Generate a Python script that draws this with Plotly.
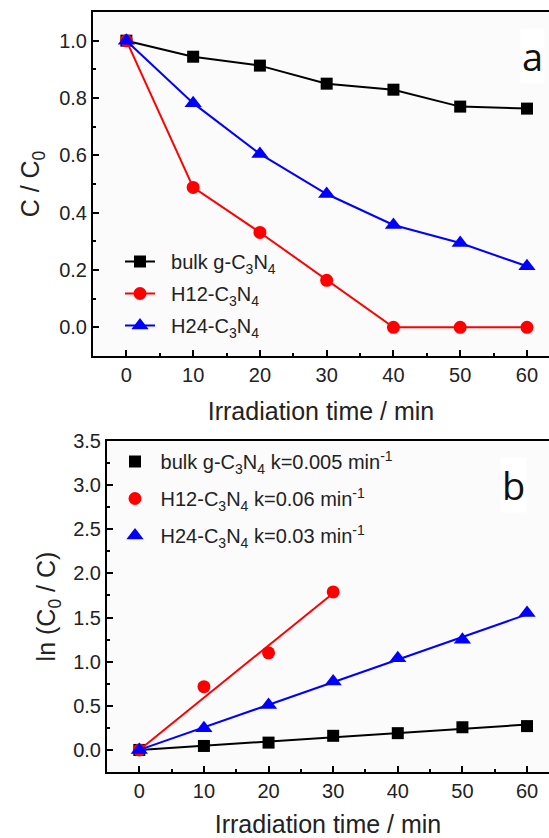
import numpy as np
import plotly.graph_objects as go

# ---------------- data ----------------
time_a = [0, 10, 20, 30, 40, 50, 60]
bulk_a = [1.0, 0.944, 0.913, 0.850, 0.829, 0.770, 0.763]
h12_a = [1.0, 0.488, 0.331, 0.164, 0.0, 0.0, 0.0]
h24_a = [1.0, 0.782, 0.605, 0.465, 0.357, 0.294, 0.213]

time_b = [0, 10, 20, 30, 40, 50, 60]
bulk_b = [0.0, 0.045, 0.083, 0.160, 0.190, 0.257, 0.270]
time_b_h12 = [0, 10, 20, 30]
h12_b = [0.0, 0.717, 1.100, 1.790]
h24_b = [0.0, 0.246, 0.510, 0.775, 1.040, 1.247, 1.550]

names_a = ["bulk g-C<sub>3</sub>N<sub>4</sub>", "H12-C<sub>3</sub>N<sub>4</sub>", "H24-C<sub>3</sub>N<sub>4</sub>"]
names_b = ["bulk g-C<sub>3</sub>N<sub>4</sub> k=0.005 min<sup>-1</sup>",
           "H12-C<sub>3</sub>N<sub>4</sub> k=0.06 min<sup>-1</sup>",
           "H24-C<sub>3</sub>N<sub>4</sub> k=0.03 min<sup>-1</sup>"]
colors = ["#000000", "#ff0000", "#0000ff"]
symbols = ["square", "circle", "triangle-up"]
msizes = [12, 13, 15]

FONT = "Arial, Liberation Sans, sans-serif"
NB = "\u00a0"

fig = go.Figure()

# panel a
for i, (ys, nm, c, s, ms) in enumerate(zip([bulk_a, h12_a, h24_a], names_a, colors, symbols, msizes)):
    fig.add_trace(go.Scatter(x=time_a, y=ys, mode="lines+markers", name=NB * 2 + nm,
                             line=dict(color=c, width=2),
                             marker=dict(symbol=s, size=ms, color=c),
                             legendgroup="a%d" % i,
                             xaxis="x", yaxis="y", legend="legend"))

# panel b: markers + linear fits through origin
def fit_line(x, y):
    x = np.asarray(x, float); y = np.asarray(y, float)
    k = (x * y).sum() / (x * x).sum()
    xs = np.array([0.0, x.max()])
    return xs, k * xs

for i, (xs_, ys, nm, c, s, ms) in enumerate(zip([time_b, time_b_h12, time_b], [bulk_b, h12_b, h24_b],
                                                names_b, colors, symbols, msizes)):
    fx, fy = fit_line(xs_, ys)
    fig.add_trace(go.Scatter(x=fx, y=fy, mode="lines", line=dict(color=c, width=2),
                             showlegend=False, xaxis="x2", yaxis="y2", hoverinfo="skip"))
    fig.add_trace(go.Scatter(x=xs_, y=ys, mode="markers", name=NB + nm,
                             marker=dict(symbol=s, size=ms, color=c),
                             legendgroup="b%d" % i,
                             xaxis="x2", yaxis="y2", legend="legend2"))

axis_common = dict(showline=True, linecolor="black", linewidth=2, ticks="inside",
                   ticklen=6, tickwidth=1.5, tickcolor="black", showgrid=False,
                   zeroline=False, automargin=False,
                   tickfont=dict(size=20, color="#222", family=FONT))

W, H = 549, 838
fig.update_layout(
    width=W, height=H,
    margin=dict(l=0, r=0, t=0, b=0, pad=0),
    paper_bgcolor="white", plot_bgcolor="#fbfbfb",
    font=dict(family=FONT, color="#222"),
    xaxis=dict(domain=[93 / W, 1], anchor="y", range=[-5, 63.3], dtick=10, tick0=0,
               mirror=True,
               minor=dict(ticks="inside", ticklen=3, dtick=5, tick0=0, tickcolor="black"),
               title=dict(text="Irradiation time / min", font=dict(size=25, family=FONT), standoff=17),
               **axis_common),
    yaxis=dict(domain=[1 - 356 / H, 1 - 12 / H], anchor="x", range=[-0.1, 1.1], dtick=0.2,
               tick0=0, tickformat=".1f",
               minor=dict(ticks="inside", ticklen=3, dtick=0.1, tick0=0, tickcolor="black"),
               title=dict(text="C / C<sub>0</sub>", font=dict(size=25, family=FONT), standoff=12),
               **axis_common),
    xaxis2=dict(domain=[107 / W, 1], anchor="y2", range=[-5, 63.4], dtick=10, tick0=0,
                mirror=True,
                minor=dict(ticks="inside", ticklen=3, dtick=5, tick0=0, tickcolor="black"),
                title=dict(text="Irradiation time / min", font=dict(size=25, family=FONT), standoff=14),
                **axis_common),
    yaxis2=dict(domain=[1 - 772 / H, 1 - 441 / H], anchor="x2", range=[-0.25, 3.5], dtick=0.5,
                tick0=0, tickformat=".1f",
                minor=dict(ticks="inside", ticklen=3, dtick=0.25, tick0=0, tickcolor="black"),
                title=dict(text="ln (C<sub>0</sub> / C)", font=dict(size=25, family=FONT), standoff=10),
                **axis_common),
    legend=dict(x=120 / W, y=1 - 242 / H, xanchor="left", yanchor="top",
                bgcolor="rgba(0,0,0,0)", font=dict(size=20, family=FONT, color="#222"),
                tracegroupgap=3),
    legend2=dict(x=115 / W, y=1 - 442 / H, xanchor="left", yanchor="top",
                 bgcolor="rgba(0,0,0,0)", font=dict(size=20, family=FONT, color="#222"),
                 tracegroupgap=8),
    annotations=[
        dict(text="a", x=532 / W, y=1 - 56 / H, xref="paper", yref="paper",
             xanchor="center", yanchor="middle",
             showarrow=False, font=dict(size=38, family="Open Sans, sans-serif", color="#111"),
             bgcolor="white"),
        dict(text="b", x=513 / W, y=1 - 485 / H, xref="paper", yref="paper",
             xanchor="center", yanchor="middle",
             showarrow=False, font=dict(size=38, family="Open Sans, sans-serif", color="#111"),
             bgcolor="white"),
    ],
)

fig.write_html("out.html", config={"displayModeBar": False},
               post_script="document.body.style.margin='0';document.body.style.overflow='hidden';")
